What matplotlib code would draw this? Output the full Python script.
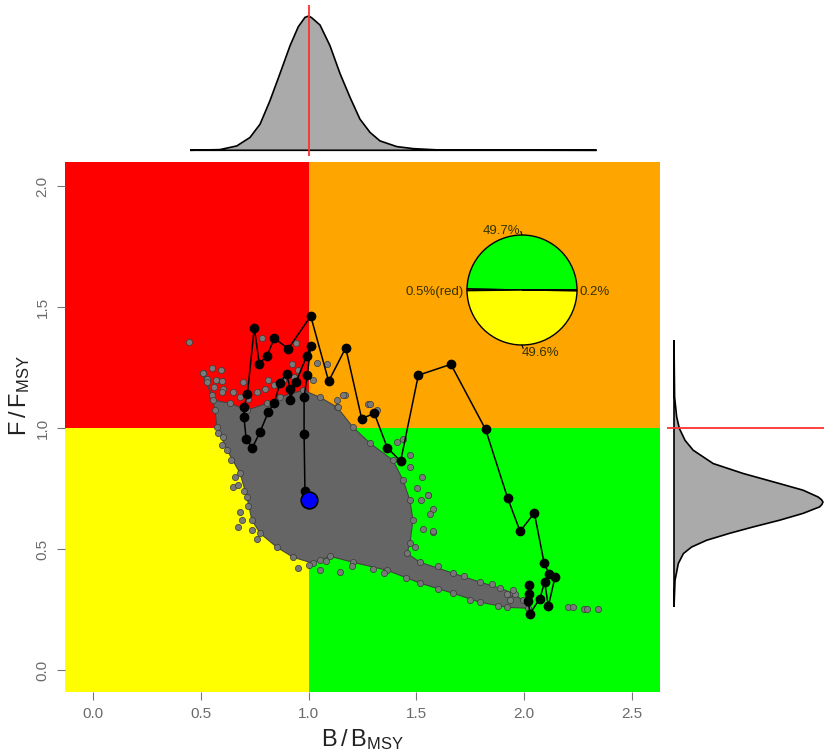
import numpy as np
import matplotlib
matplotlib.use("Agg")
import matplotlib.pyplot as plt
from matplotlib.patches import Rectangle, Polygon

plt.rcParams['font.family'] = ['Liberation Sans', 'DejaVu Sans']
plt.rcParams['mathtext.default'] = 'regular'

# ---- reference points ----
B_REF = 1.0
F_REF = 1.0

# ---- stock trajectory (B/Bmsy, F/Fmsy), first year to last year ----
traj_b = [2.024, 2.024, 2.019, 2.027, 2.073, 2.095, 2.112, 2.143, 2.116, 2.093,
          2.047, 1.981, 1.923, 1.821, 1.660, 1.509, 1.427, 1.365, 1.305, 1.246,
          1.172, 1.093, 1.010, 0.906, 0.841, 0.806, 0.771, 0.748, 0.716, 0.700,
          0.700, 0.710, 0.739, 0.775, 0.813, 0.841, 0.867, 0.898, 0.914, 0.914,
          0.942, 0.991, 1.010, 0.994, 0.979, 0.979, 0.983]
traj_f = [0.351, 0.317, 0.284, 0.234, 0.296, 0.365, 0.264, 0.385, 0.398, 0.441,
          0.650, 0.574, 0.712, 0.995, 1.264, 1.219, 0.864, 0.919, 1.061, 1.040,
          1.332, 1.194, 1.463, 1.329, 1.371, 1.298, 1.267, 1.416, 1.140, 1.086,
          1.047, 0.957, 0.919, 0.985, 1.067, 1.106, 1.185, 1.226, 1.164, 1.116,
          1.191, 1.298, 1.340, 1.219, 1.129, 0.978, 0.741]
final_b = 1.002
final_f = 0.702

# ---- posterior cloud: outline of the dense region ----
cloud_b = [0.510, 0.552, 0.566, 0.575, 0.622, 0.682, 0.714, 0.737, 0.775, 0.853,
           0.928, 1.020, 1.053, 1.099, 1.206, 1.364, 1.517, 1.670, 1.795, 1.920,
           2.018, 2.018, 1.994, 1.948, 1.888, 1.795, 1.670, 1.517, 1.456, 1.470,
           1.484, 1.470, 1.438, 1.391, 1.285, 1.206, 1.132, 1.053, 0.974, 0.867,
           0.807, 0.714, 0.636, 0.557]
cloud_f = [1.227, 1.136, 1.074, 1.004, 0.909, 0.814, 0.715, 0.620, 0.566, 0.508,
           0.467, 0.442, 0.455, 0.471, 0.446, 0.413, 0.360, 0.318, 0.281, 0.260,
           0.256, 0.277, 0.289, 0.318, 0.339, 0.364, 0.401, 0.446, 0.483, 0.525,
           0.620, 0.702, 0.785, 0.868, 0.938, 1.004, 1.087, 1.128, 1.157, 1.128,
           1.103, 1.074, 1.103, 1.116]

# ---- posterior draws lying outside / on the rim of the dense region ----
draw_b = [0.447, 0.512, 0.551, 0.592, 0.527, 0.570, 0.596, 0.604, 0.697, 0.782,
          0.922, 0.952, 0.812, 0.651, 0.674, 0.682, 0.674, 0.690, 0.736, 0.759,
          0.602, 0.952, 1.053, 1.277, 1.169, 1.138, 1.409, 1.439, 1.470, 1.470,
          1.525, 1.501, 1.555, 1.578, 1.520, 1.563, 1.578, 1.532, 1.494, 1.146,
          2.205, 2.228, 2.279, 2.290, 2.344, 1.934, 1.918, 1.956, 0.942, 1.038,
          1.084, 1.022, 1.161, 1.130, 1.285, 1.316, 1.578, 1.555,
          0.530, 0.560, 0.600, 0.650, 0.680, 0.720, 0.760, 0.800, 0.840, 0.880,
          0.930, 1.600, 1.720, 1.850, 1.950, 1.300, 1.450, 1.600, 1.750, 1.880,
          0.580, 0.600, 0.640, 0.660, 0.700, 0.720, 1.000, 1.080, 1.200, 1.350]
draw_f = [1.357, 1.229, 1.247, 1.240, 1.205, 1.198, 1.195, 1.163, 1.190, 1.371,
          1.267, 1.240, 1.198, 0.757, 0.764, 0.654, 0.592, 0.620, 0.579, 0.544,
          0.962, 0.424, 0.413, 1.102, 1.136, 1.088, 0.943, 0.957, 0.888, 0.838,
          0.799, 0.751, 0.723, 0.668, 0.702, 0.647, 0.571, 0.585, 0.509, 0.406,
          0.262, 0.262, 0.252, 0.251, 0.252, 0.289, 0.317, 0.317, 1.352, 1.270,
          1.267, 1.198, 1.136, 1.116, 1.102, 1.074, 0.574, 0.723,
          1.190, 1.170, 1.150, 1.150, 1.130, 1.120, 1.150, 1.160, 1.180, 1.200,
          1.210, 0.430, 0.390, 0.355, 0.330, 0.420, 0.380, 0.335, 0.290, 0.265,
          0.980, 0.930, 0.870, 0.800, 0.740, 0.680, 0.435, 0.450, 0.430, 0.400]

# ---- marginal densities (scaled to peak = 1) ----
dens_b_x = [0.450, 0.589, 0.667, 0.728, 0.775, 0.821, 0.867, 0.914, 0.952, 0.983,
            1.000, 1.014, 1.053, 1.099, 1.146, 1.192, 1.238, 1.285, 1.331, 1.409,
            1.486, 1.609, 2.336]
dens_b_y = [0.000, 0.005, 0.032, 0.094, 0.192, 0.365, 0.562, 0.768, 0.906, 0.975,
            0.985, 0.973, 0.919, 0.768, 0.562, 0.389, 0.229, 0.131, 0.069, 0.027,
            0.012, 0.002, 0.000]
dens_f_y = [1.364, 1.129, 1.047, 0.999, 0.950, 0.909, 0.854, 0.813, 0.771, 0.744,
            0.716, 0.705, 0.695, 0.685, 0.675, 0.648, 0.620, 0.592, 0.566, 0.537,
            0.509, 0.482, 0.441, 0.372, 0.262]
dens_f_x = [0.000, 0.004, 0.018, 0.036, 0.074, 0.129, 0.263, 0.464, 0.710, 0.866,
            0.967, 0.990, 1.000, 0.993, 0.978, 0.866, 0.710, 0.531, 0.375, 0.219,
            0.118, 0.063, 0.029, 0.007, 0.000]

# ---- share of the final-year posterior in each quadrant ----
pie_vals = [49.7, 0.5, 49.6, 0.2]
pie_cols = ['#00FF00', '#FF0000', '#FFFF00', '#FFA500']

x_ticks = [0.0, 0.5, 1.0, 1.5, 2.0, 2.5]
y_ticks = [0.0, 0.5, 1.0, 1.5, 2.0]
xlim = (-0.13, 2.63)
ylim = (-0.09, 2.10)

W, H = 824, 754
fig = plt.figure(figsize=(W / 100, H / 100), dpi=100)


def frac(l, t, r, b):
    return [l / W, 1 - b / H, (r - l) / W, (b - t) / H]


ax = fig.add_axes(frac(65, 162, 660, 692))
ax_top = fig.add_axes(frac(65, 5, 660, 156))
ax_rt = fig.add_axes(frac(667, 162, 824, 692))
ax_pie = fig.add_axes(frac(467, 235, 577, 345))

# quadrants
big = 10
ax.add_patch(Rectangle((-big, F_REF), B_REF + big, big, color='#FF0000', lw=0, zorder=0))
ax.add_patch(Rectangle((B_REF, F_REF), big, big, color='#FFA500', lw=0, zorder=0))
ax.add_patch(Rectangle((-big, -big), B_REF + big, F_REF + big, color='#FFFF00', lw=0, zorder=0))
ax.add_patch(Rectangle((B_REF, -big), big, F_REF + big, color='#00FF00', lw=0, zorder=0))

# posterior cloud
ax.add_patch(Polygon(np.column_stack([cloud_b, cloud_f]), closed=True,
                     facecolor='#656565', edgecolor='#444444', lw=0.8, zorder=2))
ax.scatter(cloud_b, cloud_f, s=20, facecolor='#767676', edgecolor='#3a3a3a',
           linewidths=0.5, zorder=3)
ax.scatter(draw_b, draw_f, s=20, facecolor='#7a7a7a', edgecolor='#3a3a3a',
           linewidths=0.5, zorder=3)

# trajectory
tb = traj_b + [final_b]
tf = traj_f + [final_f]
ax.plot(tb, tf, color='black', lw=1.1, zorder=4)
ax.plot(traj_b, traj_f, 'o', color='black', ms=6, zorder=5)
ax.plot([final_b], [final_f], 'o', mfc='#0000FF', mec='black', mew=1.2, ms=12, zorder=6)

ax.set_xlim(*xlim)
ax.set_ylim(*ylim)
for s in ax.spines.values():
    s.set_visible(False)
ax.set_xticks(x_ticks)
ax.set_xticklabels([f'{v:.1f}' for v in x_ticks])
ax.set_yticks(y_ticks)
ax.set_yticklabels([f'{v:.1f}' for v in y_ticks], rotation=90, va='center')
ax.tick_params(axis='both', direction='out', length=6, width=0.8, color='#777777',
               labelcolor='#6a6a6a', labelsize=11)
ax.tick_params(axis='x', pad=5)
ax.tick_params(axis='y', pad=5)
ax.set_xlabel(r'B$\,$/$\,$B$_{MSY}$', fontsize=17, color='#222222', labelpad=4)
ax.set_ylabel(r'F$\,$/$\,$F$_{MSY}$', fontsize=17, color='#222222')
ax.yaxis.set_label_coords(-0.055, 0.56)

# top marginal: B/Bmsy density
ax_top.fill(dens_b_x, dens_b_y, facecolor='#AAAAAA', edgecolor='black', lw=1.2)
ax_top.axvline(B_REF, color='#FF3030', lw=1.3)
ax_top.set_xlim(*xlim)
ax_top.set_ylim(-0.042, 1.066)
ax_top.axis('off')

# right marginal: F/Fmsy density
ax_rt.fill(dens_f_x, dens_f_y, facecolor='#AAAAAA', edgecolor='black', lw=1.2)
ax_rt.axhline(F_REF, color='#FF3030', lw=1.3)
ax_rt.set_ylim(*ylim)
ax_rt.set_xlim(-0.047, 1.007)
ax_rt.axis('off')

# pie of quadrant probabilities
ax_pie.pie(pie_vals, colors=pie_cols, startangle=0, counterclock=True,
           wedgeprops=dict(edgecolor='black', linewidth=1.0))
ax_pie.set_xlim(-1, 1)
ax_pie.set_ylim(-1, 1)
ax_pie.set_aspect('equal')
ax_pie.axis('off')
lab_kw = dict(fontsize=9.5, color='#333300', clip_on=False)
ax_pie.text(-0.03, 1.08, f'{pie_vals[0]}%', ha='right', va='center', **lab_kw)
ax_pie.text(0.0, -1.14, f'{pie_vals[2]}%', ha='left', va='center', **lab_kw)
ax_pie.text(-1.05, -0.03, f'{pie_vals[1]}%(red)', ha='right', va='center', **lab_kw)
ax_pie.text(1.05, -0.03, f'{pie_vals[3]}%', ha='left', va='center', **lab_kw)
ax_pie.plot([0.0, -0.02], [1.0, 1.06], color='black', lw=0.8, clip_on=False)
ax_pie.plot([0.0, 0.02], [-1.0, -1.06], color='black', lw=0.8, clip_on=False)

fig.savefig('out.png', dpi=100)
